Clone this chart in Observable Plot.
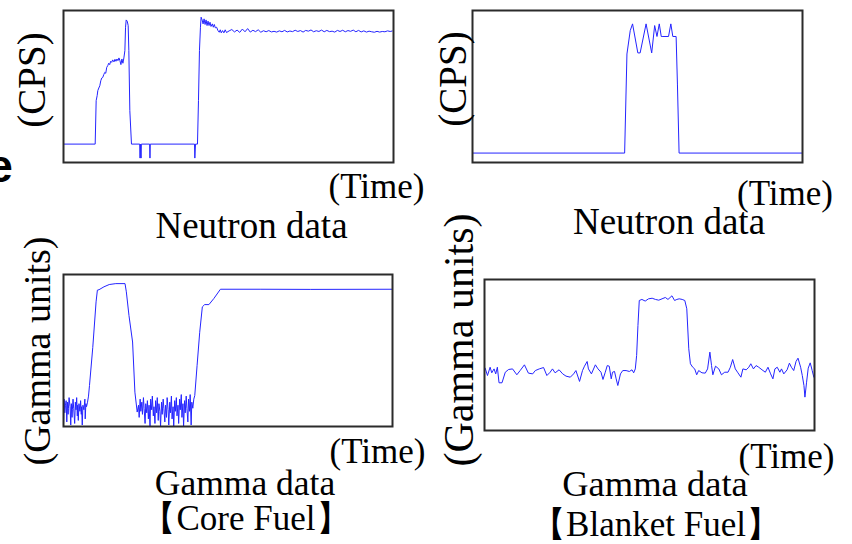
<!DOCTYPE html>
<html><head><meta charset="utf-8">
<script src="https://cdn.jsdelivr.net/npm/d3@7"></script>
<script src="https://cdn.jsdelivr.net/npm/@observablehq/plot@0.6"></script>
<style>
html,body{margin:0;padding:0;background:#fff;}
#root{position:relative;width:852px;height:544px;overflow:hidden;font-family:"Liberation Serif","Times New Roman",serif;color:#000;}
.t{position:absolute;white-space:nowrap;line-height:1;transform-origin:0 0;}
</style></head><body><div id="root"></div>
<script>
// ---- data (time in % of window, signal in % of full scale) ----
const neutronCore = [[0,2.9],[0,12.1],[9.6,12.1],[9.9,40.7],[10.2,44.0],[10.4,47.3],[10.7,49.0],[11.0,50.5],[11.3,53.8],[11.6,55.6],[11.9,56.0],[12.2,57.8],[12.5,59.3],[12.8,58.7],[13.1,62.6],[13.4,63.7],[13.7,65.3],[14.0,64.4],[14.3,66.6],[14.6,65.9],[14.9,67.5],[15.3,66.2],[15.6,67.9],[15.9,66.6],[16.2,68.1],[16.5,67.0],[16.8,68.8],[17.1,67.0],[17.4,64.4],[17.7,68.1],[18.0,65.3],[18.3,68.8],[18.6,73.6],[18.8,89.0],[19.0,93.8],[19.3,93.0],[19.6,90.1],[19.8,73.6],[20.1,34.1],[20.6,12.1],[23.1,12.1],[23.2,2.9],[23.3,12.1],[23.5,2.9],[23.6,12.1],[26.1,12.1],[26.2,2.9],[26.3,12.1],[39.7,12.1],[39.8,2.9],[40.0,12.1],[40.6,12.1],[40.9,40.7],[41.2,73.6],[41.5,89.0],[41.7,95.6],[42.0,93.8],[42.3,91.2],[42.6,94.5],[42.9,90.8],[43.2,93.8],[43.5,90.1],[43.8,93.0],[44.1,90.1],[44.4,92.3],[44.7,89.5],[45.1,91.2],[45.4,89.0],[45.7,90.8],[46.0,88.6],[46.4,89.0],[46.8,86.8],[47.2,85.7],[47.5,87.3],[47.8,85.3],[48.2,86.8],[48.6,85.3],[49.0,87.3],[49.4,85.5],[50.2,86.6],[51.0,87.5],[51.8,85.9],[52.6,87.1],[53.4,85.6],[54.2,87.8],[55.0,86.0],[55.8,88.1],[56.6,85.8],[57.4,87.0],[58.2,86.1],[59.0,87.3],[59.8,85.7],[60.6,86.7],[61.4,86.0],[62.2,86.8],[63.0,85.9],[63.8,86.3],[64.6,85.8],[65.4,86.6],[66.2,86.0],[67.0,86.9],[67.8,85.9],[68.6,86.5],[69.4,86.1],[70.2,87.0],[71.0,86.2],[71.8,86.8],[72.6,85.8],[73.4,86.9],[74.2,86.4],[75.0,87.2],[75.8,86.0],[76.6,86.7],[77.4,86.2],[78.2,87.1],[79.0,86.0],[79.8,86.9],[80.6,86.1],[81.4,86.4],[82.2,85.8],[83.0,86.9],[83.8,86.2],[84.6,87.0],[85.4,86.0],[86.2,86.8],[87.0,86.3],[87.8,87.1],[88.6,86.0],[89.4,86.9],[90.2,85.9],[91.0,86.6],[91.8,85.8],[92.6,86.4],[93.4,86.0],[94.2,85.7],[95.0,86.3],[95.8,85.8],[96.6,86.2],[97.4,86.0],[98.2,86.6],[99.0,86.2],[99.6,86.5]];

const neutronBlanket = [[0,6.2],[46.1,6.2],[46.8,71.4],[47.8,86.8],[48.5,91.2],[50.1,72.1],[50.8,72.1],[52.6,91.2],[54.3,72.1],[55.2,90.1],[55.9,82.9],[56.6,91.2],[57.2,82.9],[57.7,82.9],[59.4,82.9],[60.1,91.2],[60.7,82.9],[61.7,82.9],[62.1,51.6],[62.6,6.2],[100,6.2]];

const gammaCore = [[0,1],[0.2,18],[0.4,9],[0.6,14],[0.8,17],[1.0,3],[1.2,16],[1.4,8],[1.5,12],[1.7,19],[2.0,13],[2.2,1],[2.4,15],[2.6,6],[2.7,11],[2.9,18],[3.1,12],[3.4,2],[3.6,16],[3.8,11],[4.0,19],[4.2,7],[4.3,14],[4.5,4],[4.7,15],[5.0,10],[5.2,17],[5.4,8],[5.5,13],[5.7,1],[5.9,14],[6.2,11],[6.5,18],[6.6,5],[6.8,15],[7.0,13],[7.3,16],[7.6,20],[7.9,27],[8.9,52],[9.9,82],[10.3,89.7],[10.8,90.0],[12.3,91.9],[13.9,93.4],[15.9,94.0],[18.7,94.0],[19.1,88.6],[19.9,73.0],[21.0,55.6],[21.7,22.6],[22.4,9.5],[22.8,14],[23.0,6],[23.3,18],[23.5,10],[23.8,16],[24.0,8],[24.3,19],[24.5,12],[24.8,2],[25.0,15],[25.3,9],[25.5,17],[25.8,5],[26.0,14],[26.3,0],[26.5,18],[26.8,11],[27.0,20],[27.3,7],[27.5,13],[27.8,2],[28.0,17],[28.3,9],[28.5,19],[28.8,4],[29.0,15],[29.3,10],[29.5,0],[29.8,16],[30.0,8],[30.3,18],[30.5,12],[30.8,3],[31.0,14],[31.3,6],[31.5,19],[31.8,11],[32.0,1],[32.3,16],[32.5,9],[32.8,20],[33.0,5],[33.3,13],[33.5,0],[33.8,17],[34.0,10],[34.3,19],[34.5,7],[34.8,14],[35.0,2],[35.3,18],[35.5,11],[35.8,21],[36.0,6],[36.3,15],[36.5,0],[36.8,17],[37.0,9],[37.3,20],[37.5,12],[37.8,3],[38.0,18],[38.3,10],[38.5,21],[38.8,1],[39.0,16],[39.3,12],[39.6,18],[39.9,20.4],[40.6,40],[41.4,62],[42.2,78.7],[42.9,80.2],[44.2,80.2],[45.7,84.2],[47.7,90.3],[60,90.3],[75,90.2],[100,90.3]];

const gammaBlanket = [[0.2,41.3],[0.9,36.4],[1.7,41.9],[2.2,38.2],[2.9,40.8],[3.4,37.5],[3.9,41.9],[4.4,31.6],[5.3,31.6],[6.3,38.6],[7.3,40.4],[8.5,40.8],[9.8,36.9],[10.8,39.7],[12.1,43.5],[13.3,38.0],[14.6,37.5],[15.4,39.7],[16.6,40.8],[17.9,41.7],[18.9,36.4],[19.9,38.6],[20.6,40.8],[21.4,38.2],[22.6,40.2],[23.7,37.5],[24.7,36.0],[26.0,35.3],[27.0,37.5],[27.7,39.7],[28.8,32.5],[29.7,39.7],[30.3,42.6],[31.1,45.7],[31.5,40.8],[32.4,37.5],[33.6,43.5],[34.4,40.8],[35.3,38.6],[35.9,33.8],[36.6,38.6],[37.2,43.0],[37.8,42.6],[38.4,34.2],[38.8,38.6],[39.4,39.1],[39.9,34.2],[40.4,29.8],[41.2,37.5],[41.9,39.7],[42.9,39.7],[43.9,39.1],[44.7,40.2],[45.2,38.2],[45.7,40.8],[46.1,49.7],[46.5,69.5],[46.9,86.1],[47.7,86.8],[48.7,85.7],[49.7,87.2],[50.8,87.6],[51.8,86.8],[52.8,86.3],[53.8,87.2],[54.8,88.1],[55.6,86.8],[56.8,89.2],[57.6,86.1],[58.3,86.8],[59.0,87.2],[59.9,86.8],[60.7,86.1],[61.3,80.6],[61.9,54.1],[62.4,44.2],[63.1,41.9],[63.7,40.8],[64.3,36.9],[64.9,39.7],[65.9,38.2],[66.9,38.0],[67.6,40.8],[68.3,51.9],[68.8,43.0],[69.2,36.9],[70.0,42.6],[71.0,40.8],[71.8,36.9],[72.8,38.6],[73.8,38.6],[74.5,41.9],[75.2,47.0],[76.0,40.8],[76.8,38.2],[77.7,35.3],[78.3,40.8],[79.3,40.2],[80.1,41.9],[80.7,44.2],[81.5,40.8],[82.3,43.0],[83.1,41.9],[84.1,40.2],[85.1,38.6],[85.9,41.9],[86.7,37.5],[87.4,34.2],[88.0,40.8],[88.7,41.9],[89.5,38.6],[90.0,40.8],[90.7,37.5],[91.7,40.2],[92.4,44.6],[93.0,41.9],[93.7,39.7],[94.4,45.7],[95.0,47.9],[95.8,41.9],[96.3,36.4],[96.8,29.8],[97.1,22.1],[97.6,32.0],[98.1,41.3],[98.7,44.8],[99.3,39.7],[99.8,35.3]];

const yLabels = ["(CPS)", "(CPS)", "(Gamma units)", "(Gamma units)"];
const xLabel = "(Time)";
const titles = ["Neutron data", "Neutron data", "Gamma data", "Gamma data"];
const fuels = ["【Core Fuel】", "【Blanket Fuel】"];

// ---- layout ----
const root = document.getElementById("root");
const LINE = "#2424ff";

function panel(data, l, t, r, b) {
  const m = 2;
  const svg = Plot.plot({
    width: (r - l) + 2 * m, height: (b - t) + 2 * m,
    marginTop: m, marginRight: m, marginBottom: m, marginLeft: m,
    x: {domain: [0, 100], axis: null},
    y: {domain: [0, 100], axis: null},
    style: {background: "transparent", overflow: "visible"},
    marks: [
      Plot.line(data, {x: d => d[0], y: d => d[1], stroke: LINE, strokeWidth: 1}),
      Plot.frame({stroke: "#2b2b2b", strokeWidth: 2})
    ]
  });
  svg.style.position = "absolute";
  svg.style.left = (l - m) + "px";
  svg.style.top = (t - m) + "px";
  root.appendChild(svg);
}

panel(neutronCore, 63, 10, 393, 162);
panel(neutronBlanket, 472, 10, 802, 162);
panel(gammaCore, 63, 274, 392, 426);
panel(gammaBlanket, 484, 279, 814, 430);

// horizontal text: centre x, baseline y, font size
function htext(s, cx, base, fs, extra) {
  const d = document.createElement("div");
  d.className = "t";
  d.textContent = s;
  d.style.fontSize = fs + "px";
  d.style.left = cx + "px";
  d.style.top = (base - 0.8375 * fs) + "px";
  d.style.transform = "translateX(-50%)";
  if (extra) Object.assign(d.style, extra);
  root.appendChild(d);
}
// vertical text (reads bottom to top): baseline x, centre y, font size
function vtext(s, bx, cy, fs) {
  const d = document.createElement("div");
  d.className = "t";
  d.textContent = s;
  d.style.fontSize = fs + "px";
  d.style.left = bx + "px";
  d.style.top = cy + "px";
  d.style.transform = "rotate(-90deg) translate(-50%, -0.8375em)";
  root.appendChild(d);
}

vtext(yLabels[0], 45, 80, 39);
vtext(yLabels[1], 466, 79, 39);
vtext(yLabels[2], 50, 351, 38);
vtext(yLabels[3], 473, 340, 42);

htext(xLabel, 376.5, 198, 35);
htext(xLabel, 785, 205, 35);
htext(xLabel, 377.5, 463, 35);
htext(xLabel, 786.5, 468, 35);

htext(titles[0], 251.5, 238, 37);
htext(titles[1], 669, 234, 37);
htext(titles[2], 245, 496, 35.5);
htext(titles[3], 655, 497, 36.5);
htext(fuels[0], 246, 530, 35);
htext(fuels[1], 656, 536, 35);

// cropped fragment of a neighbouring letter at the left edge
htext("e", 0, 182, 46, {fontFamily: "'Liberation Sans', Arial, sans-serif", fontWeight: "bold"});
</script></body></html>
